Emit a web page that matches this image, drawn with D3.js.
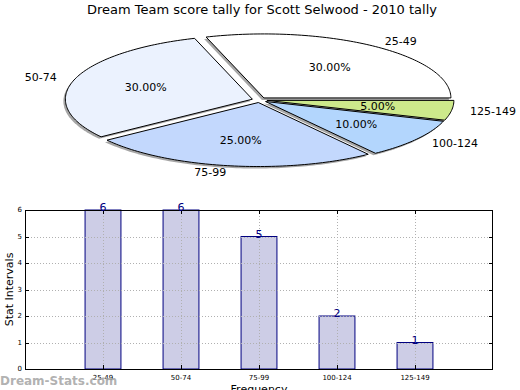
<!DOCTYPE html>
<html>
<head>
<meta charset="utf-8">
<script src="https://cdn.jsdelivr.net/npm/d3@7"></script>
<style>
  body { margin: 0; background: #fff; }
  text { font-family: "DejaVu Sans", sans-serif; }
</style>
</head>
<body>
<div id="viz"></div>
<script>
// score buckets and counts
let categories = ["25-49", "50-74", "75-99", "100-124", "125-149"];
let counts = [6, 6, 5, 2, 1];
let sliceColours = ["#ffffff", "#ebf2fe", "#c3d8fd", "#b3d6fd", "#cde98b"];
let yTicks = [0, 1, 2, 3, 4, 5, 6];

let width = 520, height = 390;

let svg = d3.select("#viz")
  .append("svg")
  .attr("width", width)
  .attr("height", height);

// title
svg.append("text")
  .attr("x", 262)
  .attr("y", 14)
  .attr("text-anchor", "middle")
  .attr("font-size", 13)
  .text("Dream Team score tally for Scott Selwood - 2010 tally");

// ---- pie (squashed, matplotlib style: ccw from 3 o'clock) ----
let cx = 259.5, cy = 100, rx = 187, ry = 64, explode = 0.04;
let total = d3.sum(counts);

let pie = d3.pie().sort(null).startAngle(0).endAngle(2 * Math.PI);
let slices = pie(counts).map((d, i) => {
  let mid = (d.startAngle + d.endAngle) / 2;
  return {
    name: categories[i],
    value: d.value,
    a0: d.startAngle,
    a1: d.endAngle,
    mid: mid,
    colour: sliceColours[i],
    ox: cx + explode * rx * Math.cos(mid),
    oy: cy - explode * ry * Math.sin(mid)
  };
});

let wedgePath = function (s, dx, dy) {
  let p = d3.path();
  let x0 = s.ox + dx, y0 = s.oy + dy;
  p.moveTo(x0, y0);
  let n = Math.max(8, Math.ceil((s.a1 - s.a0) / 0.02));
  for (let k = 0; k <= n; k++) {
    let a = s.a0 + (s.a1 - s.a0) * k / n;
    p.lineTo(x0 + rx * Math.cos(a), y0 - ry * Math.sin(a));
  }
  p.closePath();
  return p.toString();
};

// shadows first, then wedges
svg.append("g")
  .selectAll("path")
  .data(slices)
  .join("path")
  .attr("d", (d) => wedgePath(d, -2, 2))
  .attr("fill", "#4d4d4d")
  .attr("fill-opacity", 0.5)
  .attr("stroke", "none");

svg.append("g")
  .selectAll("path")
  .data(slices)
  .join("path")
  .attr("d", (d) => wedgePath(d, 0, 0))
  .attr("fill", (d) => d.colour)
  .attr("stroke", "#000")
  .attr("stroke-width", 1)
  .attr("stroke-linejoin", "miter");

// outer labels
svg.append("g")
  .selectAll("text")
  .data(slices)
  .join("text")
  .attr("x", (d) => d.ox + 1.1 * rx * Math.cos(d.mid))
  .attr("y", (d) => d.oy - 1.1 * ry * Math.sin(d.mid))
  .attr("dy", "0.35em")
  .attr("text-anchor", (d) => (Math.cos(d.mid) > 0 ? "start" : "end"))
  .attr("font-size", 11)
  .text((d) => d.name);

// percent labels
svg.append("g")
  .selectAll("text")
  .data(slices)
  .join("text")
  .attr("x", (d) => d.ox + 0.6 * rx * Math.cos(d.mid))
  .attr("y", (d) => d.oy - 0.6 * ry * Math.sin(d.mid))
  .attr("dy", "0.35em")
  .attr("text-anchor", "middle")
  .attr("font-size", 11)
  .text((d) => (d.value / total * 100).toFixed(2) + "%");

// ---- bar chart ----
let plotLeft = 25, plotRight = 493, plotTop = 210, plotBottom = 369;

let x = d3.scaleLinear().domain([-1, categories.length]).range([plotLeft, plotRight]);
let y = d3.scaleLinear().domain([0, 6]).range([plotBottom, plotTop]);
let barW = 0.46 * (x(1) - x(0));

let bars = svg.append("g");

bars.selectAll("rect")
  .data(counts)
  .join("rect")
  .attr("x", (d, i) => x(i) - barW / 2)
  .attr("y", (d) => y(d))
  .attr("width", barW)
  .attr("height", (d) => y(0) - y(d))
  .attr("fill", "#cdcde6")
  .attr("stroke", "#000080")
  .attr("stroke-width", 1);

// grid
let grid = svg.append("g")
  .attr("stroke", "#b0b0b0")
  .attr("stroke-width", 1)
  .attr("stroke-dasharray", "1,2");

grid.selectAll("line.h")
  .data(yTicks.slice(1, -1))
  .join("line")
  .attr("class", "h")
  .attr("x1", plotLeft).attr("x2", plotRight)
  .attr("y1", (d) => Math.round(y(d)) + 0.5)
  .attr("y2", (d) => Math.round(y(d)) + 0.5);

grid.selectAll("line.v")
  .data(categories)
  .join("line")
  .attr("class", "v")
  .attr("x1", (d, i) => Math.round(x(i)) + 0.5)
  .attr("x2", (d, i) => Math.round(x(i)) + 0.5)
  .attr("y1", plotTop).attr("y2", plotBottom);

// frame
svg.append("rect")
  .attr("x", plotLeft + 0.5)
  .attr("y", plotTop + 0.5)
  .attr("width", plotRight - plotLeft - 1)
  .attr("height", plotBottom - plotTop)
  .attr("fill", "none")
  .attr("stroke", "#000");

// inward ticks
let ticks = svg.append("g").attr("stroke", "#000");
yTicks.forEach((t) => {
  let yy = Math.round(y(t)) + 0.5;
  ticks.append("line").attr("x1", plotLeft).attr("x2", plotLeft + 4).attr("y1", yy).attr("y2", yy);
  ticks.append("line").attr("x1", plotRight - 4).attr("x2", plotRight).attr("y1", yy).attr("y2", yy);
});
categories.forEach((c, i) => {
  let xx = Math.round(x(i)) + 0.5;
  ticks.append("line").attr("x1", xx).attr("x2", xx).attr("y1", plotBottom).attr("y2", plotBottom - 4);
  ticks.append("line").attr("x1", xx).attr("x2", xx).attr("y1", plotTop).attr("y2", plotTop + 4);
});

// tick labels
svg.append("g")
  .selectAll("text")
  .data(yTicks)
  .join("text")
  .attr("x", plotLeft - 3)
  .attr("y", (d) => y(d))
  .attr("dy", "0.35em")
  .attr("text-anchor", "end")
  .attr("font-size", 7)
  .text((d) => d);

svg.append("g")
  .selectAll("text")
  .data(categories)
  .join("text")
  .attr("x", (d, i) => x(i))
  .attr("y", plotBottom + 11)
  .attr("text-anchor", "middle")
  .attr("font-size", 7)
  .text((d) => d);

// value labels
svg.append("g")
  .selectAll("text")
  .data(counts)
  .join("text")
  .attr("x", (d, i) => x(i))
  .attr("y", (d) => y(d) + 1)
  .attr("text-anchor", "middle")
  .attr("font-size", 11)
  .attr("fill", "#000080")
  .text((d) => d);

// axis titles
svg.append("text")
  .attr("transform", `translate(13,${(plotTop + plotBottom) / 2}) rotate(-90)`)
  .attr("text-anchor", "middle")
  .attr("font-size", 11)
  .text("Stat Intervals");

svg.append("text")
  .attr("x", (plotLeft + plotRight) / 2)
  .attr("y", 393)
  .attr("text-anchor", "middle")
  .attr("font-size", 11)
  .text("Frequency");

// watermark
svg.append("text")
  .attr("x", 0)
  .attr("y", 385)
  .attr("font-size", 12)
  .attr("font-weight", "bold")
  .attr("fill", "#a8a8a8")
  .attr("fill-opacity", 0.9)
  .text("Dream-Stats.com");
</script>
</body>
</html>
